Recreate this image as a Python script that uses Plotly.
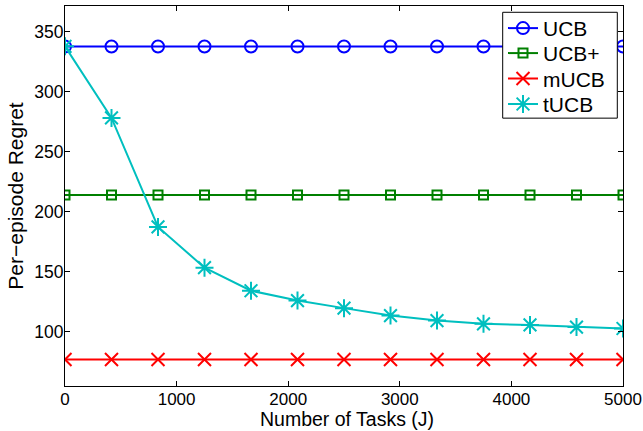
import plotly.graph_objects as go

tasks = [0, 416.7, 833.3, 1250, 1666.7, 2083.3, 2500, 2916.7, 3333.3, 3750, 4166.7, 4583.3, 5000]
ucb = [337.8] * 13
ucb_plus = [214] * 13
mucb = [77] * 13
tucb = [338, 278.3, 187.5, 153.5, 134.3, 126.1, 119.8, 113.6, 109.4, 106.7, 105.8, 104.0, 102.8]

x_ticks = [0, 1000, 2000, 3000, 4000, 5000]
y_ticks = [100, 150, 200, 250, 300, 350]

names = ["UCB", "UCB+", "mUCB", "tUCB"]
values = [ucb, ucb_plus, mucb, tucb]
colors = ["#0000FF", "#008000", "#FF0000", "#00BFBF"]
symbols = ["circle-open", "square-open", "x-thin-open", "asterisk-open"]
sizes = [12, 9, 13, 15]
legend_ids = ["legend", "legend2", "legend3", "legend4"]
legend_centers_px = [28.5, 53.5, 79, 104.5]

W, H = 643, 431
font_family = "Liberation Sans, Arial, sans-serif"

# plot area in px: x 65..623, y 6..386.5
pl, pr, pt, pb = 65, 623, 6, 386.5
def px_to_paper_x(v):
    return (v - pl) / (pr - pl)
def px_to_paper_y(v):
    return (pb - v) / (pb - pt)

fig = go.Figure()
for name, vals, col, sym, sz, lid in zip(names, values, colors, symbols, sizes, legend_ids):
    fig.add_trace(go.Scatter(
        x=tasks, y=vals, name=name, mode="lines+markers", legend=lid,
        line=dict(color=col, width=2),
        marker=dict(symbol=sym, size=sz, color=col, line=dict(color=col, width=2)),
    ))

legend_layout = {}
for lid, cy in zip(legend_ids, legend_centers_px):
    legend_layout[lid] = dict(
        xref="paper", yref="paper",
        x=px_to_paper_x(503), y=px_to_paper_y(cy), xanchor="left", yanchor="middle",
        bgcolor="rgba(0,0,0,0)", borderwidth=0,
        font=dict(size=21, family=font_family, color="black"),
        itemwidth=30,
    )

fig.update_layout(
    width=W, height=H,
    margin=dict(l=pl, r=W - pr, t=pt, b=H - pb, pad=0, autoexpand=False),
    paper_bgcolor="white", plot_bgcolor="white",
    font=dict(family=font_family, color="black", size=17.5),
    showlegend=True,
    shapes=[dict(
        type="rect", xref="paper", yref="paper", layer="above",
        x0=px_to_paper_x(502.7), x1=px_to_paper_x(617.3),
        y0=px_to_paper_y(118.3), y1=px_to_paper_y(12.3),
        line=dict(color="black", width=1), fillcolor="white",
    )],
    annotations=[dict(
        text="Number of Tasks (J)", xref="paper", yref="paper",
        x=px_to_paper_x(347), y=px_to_paper_y(420),
        xanchor="center", yanchor="middle", showarrow=False, borderpad=0,
        font=dict(size=19.5, family=font_family, color="black"),
    )],
    **legend_layout,
)
fig.update_xaxes(
    range=[0, 5000], tickvals=x_ticks, ticktext=[str(v) for v in x_ticks],
    ticks="inside", ticklen=5, tickcolor="black", tickwidth=1,
    showline=True, linecolor="black", linewidth=1.2, mirror="ticks",
    showgrid=False, zeroline=False,
    tickfont=dict(size=17), ticklabelstandoff=-3,
)
fig.update_yaxes(
    range=[54.9, 371.6], tickvals=y_ticks, ticktext=[str(v) for v in y_ticks],
    ticks="inside", ticklen=5, tickcolor="black", tickwidth=1,
    showline=True, linecolor="black", linewidth=1.2, mirror="ticks",
    showgrid=False, zeroline=False,
    tickfont=dict(size=17.5), ticklabelstandoff=-3,
    title=dict(text="Per\u2212episode Regret", font=dict(size=21), standoff=4),
)

fig.write_html("out.html")
